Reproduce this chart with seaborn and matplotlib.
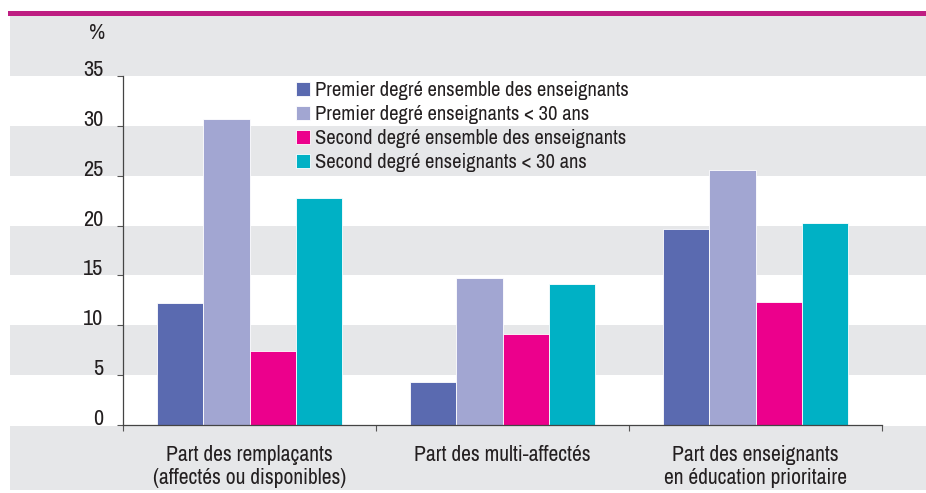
import matplotlib
matplotlib.use('Agg')
import matplotlib.pyplot as plt
from matplotlib.patches import Rectangle
import pandas as pd
import seaborn as sns

categories = ["Part des remplaçants\n(affectés ou disponibles)",
              "Part des multi-affectés",
              "Part des enseignants\nen éducation prioritaire"]
series = ["Premier degré ensemble des enseignants",
          "Premier degré enseignants < 30 ans",
          "Second degré ensemble des enseignants",
          "Second degré enseignants < 30 ans"]
premier_ensemble = [12.2, 4.3, 19.7]
premier_moins30 = [30.7, 14.7, 25.6]
second_ensemble = [7.4, 9.1, 12.3]
second_moins30 = [22.8, 14.1, 20.3]
colors = ["#5A6AB0", "#A2A6D2", "#EC008C", "#00B1C5"]

rows = []
for s, vals in zip(series, [premier_ensemble, premier_moins30, second_ensemble, second_moins30]):
    for c, v in zip(categories, vals):
        rows.append({"categorie": c, "serie": s, "valeur": v})
df = pd.DataFrame(rows)

sns.set_style("white")
plt.rcParams['font.family'] = ['Archivo Narrow', 'DejaVu Sans']
text_color = "#231F20"
grey = "#E6E7E9"

fig = plt.figure(figsize=(9.26, 4.93), dpi=100)
W, H = 926, 493

# background bands outside the axes
for y0, h, col in [(76, 60, grey), (490, 64, grey), (16, 5, "#BE1E82")]:
    x0 = 8 if col != grey else 10
    fig.patches.append(Rectangle((x0 / W, 1 - y0 / H), 1, h / H, transform=fig.transFigure,
                                 facecolor=col, edgecolor='none', zorder=-5))

ax = fig.add_axes([123 / W, 1 - 425 / H, (882 - 123) / W, (425 - 76) / H])
ax.set_facecolor('none')

sns.barplot(data=df, x="categorie", y="valeur", hue="serie", palette=colors,
            width=0.73, saturation=1, edgecolor="white", linewidth=0.6, ax=ax, zorder=2)

# grey bands inside the plot area, spanning full figure width
for lo in [5, 15, 25]:
    ax.axhspan(lo, lo + 5, xmin=-113 / 759, xmax=1.1, color=grey, zorder=0, clip_on=False, lw=0)

ax.set_ylim(0, 35)
ax.set_xlim(-0.5, 2.5)
ax.set_yticks(range(0, 36, 5))
ax.set_yticklabels([str(v) for v in range(0, 36, 5)], fontsize=16, color=text_color)
for lab in ax.get_yticklabels():
    lab.set_va('baseline')
ax.set_xticks([-0.5, 0.5, 1.5, 2.5])
ax.set_xticklabels([])
for i, c in enumerate(categories):
    ax.text(i, -2.0, c, ha='center', va='top', fontsize=15.5, color=text_color, linespacing=1.2)

ax.tick_params(axis='y', direction='out', length=4, width=0.8, color="#555555", pad=10, left=True)
ax.tick_params(axis='x', direction='out', length=4, width=0.8, color="#555555", bottom=True)
for side in ['top', 'right']:
    ax.spines[side].set_visible(False)
for side in ['left', 'bottom']:
    ax.spines[side].set_color("#444444")
    ax.spines[side].set_linewidth(0.9)
ax.set_xlabel('')
ax.set_ylabel('')
ax.grid(False)

fig.text(97 / W, 1 - 33 / H, "%", ha='center', va='center', fontsize=16, color=text_color)

leg = ax.legend(loc='upper left', bbox_to_anchor=(0.215, 1.015), frameon=False,
                fontsize=14.8, handlelength=0.65, handleheight=0.65, handletextpad=0.25,
                labelspacing=0.25, borderaxespad=0.1)
for t in leg.get_texts():
    t.set_color(text_color)

fig.savefig("out.png", dpi=100)
